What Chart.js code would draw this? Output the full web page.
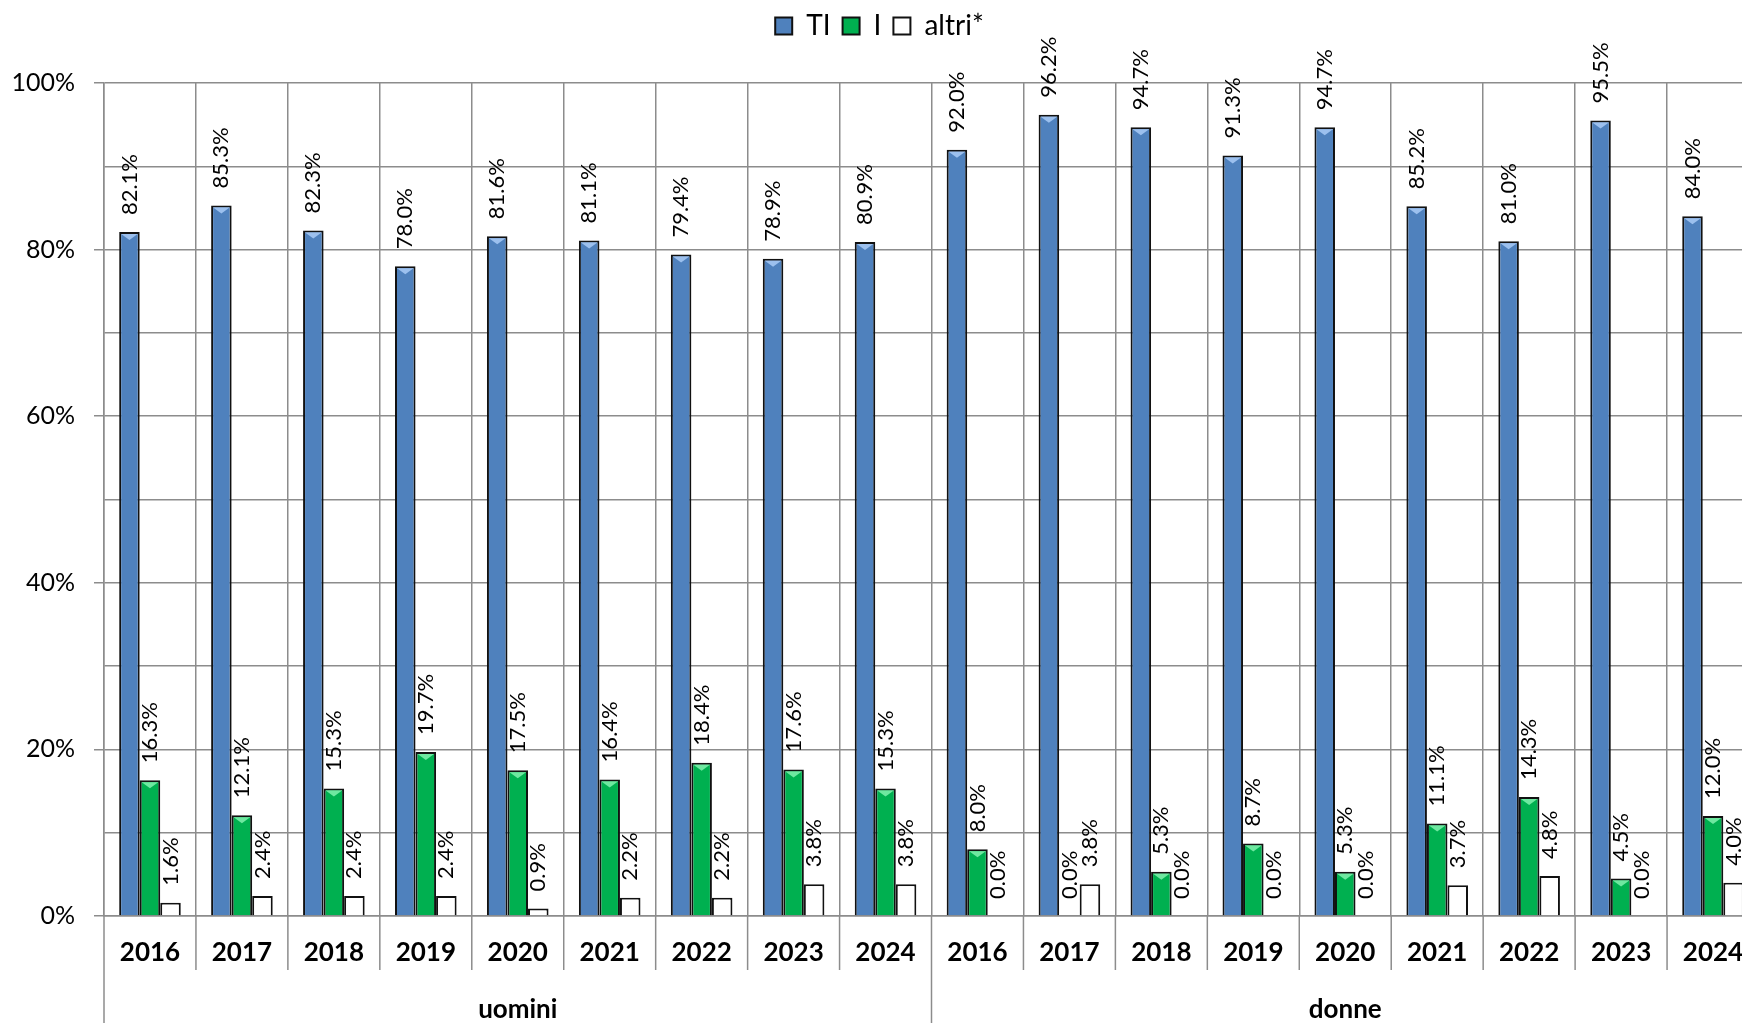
<!DOCTYPE html>
<html lang="it">
<head>
<meta charset="utf-8">
<title>TI - I - altri</title>
<script src="https://cdn.jsdelivr.net/npm/chart.js@4.4.1/dist/chart.umd.min.js"></script>
<style>
    html, body { margin: 0; padding: 0; background: #fff; overflow: hidden; }
    #grafico { display: block; }
</style>
</head>
<body>
<canvas id="grafico" width="1786" height="1023"></canvas>
<script>
// Dati (valori in %)
const anni = ['2016', '2017', '2018', '2019', '2020', '2021', '2022', '2023', '2024',
              '2016', '2017', '2018', '2019', '2020', '2021', '2022', '2023', '2024'];
const gruppi = ['uomini', 'donne'];
const anniPerGruppo = 9;
const valoriTI = [82.1, 85.3, 82.3, 78.0, 81.6, 81.1, 79.4, 78.9, 80.9,
                  92.0, 96.2, 94.7, 91.3, 94.7, 85.2, 81.0, 95.5, 84.0];
const valoriI = [16.3, 12.1, 15.3, 19.7, 17.5, 16.4, 18.4, 17.6, 15.3,
                 8.0, 0.0, 5.3, 8.7, 5.3, 11.1, 14.3, 4.5, 12.0];
const valoriAltri = [1.6, 2.4, 2.4, 2.4, 0.9, 2.2, 2.2, 3.8, 3.8,
                     0.0, 3.8, 0.0, 0.0, 0.0, 3.7, 4.8, 0.0, 4.0];
const tacchePrincipali = [0, 20, 40, 60, 80, 100];

const coloreGriglia = '#8c8c8c';
const font = 'Lato';

// Altezza fissa della legenda, cosi' l'area del grafico parte dove serve
const altezzaLegenda = {
    id: 'altezzaLegenda',
    beforeInit(chart) {
        const fitOriginale = chart.legend.fit;
        chart.legend.fit = function () {
            fitOriginale.call(this);
            this.height = 83;
        };
    }
};

// Piccolo triangolo chiaro in cima alle barre (effetto smusso di Excel)
const smussoBarre = {
    id: 'smussoBarre',
    afterDatasetsDraw(chart) {
        const ctx = chart.ctx;
        const chiari = ['#9cc0ee', '#6ee8a0', '#ffffff'];
        ctx.save();
        chart.data.datasets.forEach((ds, i) => {
            chart.getDatasetMeta(i).data.forEach(barra => {
                const alto = barra.base - barra.y;
                if (alto < 10) return;
                const meta = barra.width / 2 - 2;
                ctx.beginPath();
                ctx.moveTo(barra.x - meta, barra.y + 2);
                ctx.lineTo(barra.x + meta, barra.y + 2);
                ctx.lineTo(barra.x, barra.y + 8);
                ctx.closePath();
                ctx.fillStyle = chiari[i];
                ctx.fill();
            });
        });
        ctx.restore();
    }
};

// Etichette dei valori ruotate sopra ogni barra
const etichetteValori = {
    id: 'etichetteValori',
    afterDatasetsDraw(chart) {
        const ctx = chart.ctx;
        ctx.save();
        ctx.font = '22px ' + font;
        ctx.fillStyle = '#000';
        ctx.textAlign = 'left';
        ctx.textBaseline = 'middle';
        chart.data.datasets.forEach((ds, i) => {
            chart.getDatasetMeta(i).data.forEach((barra, j) => {
                ctx.save();
                ctx.translate(barra.x, barra.y - 17);
                ctx.rotate(-Math.PI / 2);
                ctx.fillText(ds.data[j].toFixed(1) + '%', 0, 0);
                ctx.restore();
            });
        });
        ctx.restore();
    }
};

// Linee di separazione sotto l'asse e nomi dei gruppi (uomini / donne)
const separatori = {
    id: 'separatori',
    afterDraw(chart) {
        const { ctx, chartArea, scales: { x } } = chart;
        const passo = x.getPixelForValue(1) - x.getPixelForValue(0);
        ctx.save();
        ctx.strokeStyle = coloreGriglia;
        ctx.lineWidth = 1.5;
        for (let i = 0; i <= anni.length; i++) {
            const px = x.getPixelForValue(0) + (i - 0.5) * passo;
            const fine = i % anniPerGruppo === 0 ? chart.height : chartArea.bottom + 54;
            ctx.beginPath();
            ctx.moveTo(px, chartArea.bottom);
            ctx.lineTo(px, fine);
            ctx.stroke();
        }
        ctx.font = 'bold 26px ' + font;
        ctx.fillStyle = '#000';
        ctx.textAlign = 'center';
        ctx.textBaseline = 'middle';
        gruppi.forEach((nome, k) => {
            const centro = x.getPixelForValue(0) + (k * anniPerGruppo + (anniPerGruppo - 1) / 2) * passo;
            ctx.fillText(nome, centro, chartArea.bottom + 94);
        });
        ctx.restore();
    }
};

function creaGrafico() {
    const ctx = document.getElementById('grafico').getContext('2d');
    const comuni = { borderColor: '#111', borderWidth: 2, barPercentage: 1, categoryPercentage: 0.67 };
    new Chart(ctx, {
        type: 'bar',
        data: {
            labels: anni,
            datasets: [
                { label: 'TI', data: valoriTI, backgroundColor: '#4f81bd', ...comuni },
                { label: 'I', data: valoriI, backgroundColor: '#00b050', ...comuni },
                { label: 'altri*', data: valoriAltri, backgroundColor: '#ffffff', ...comuni }
            ]
        },
        options: {
            responsive: false,
            animation: false,
            layout: { padding: { right: 27 } },
            plugins: {
                tooltip: { enabled: false },
                legend: {
                    position: 'top',
                    labels: {
                        color: '#000',
                        font: { family: font, size: 28 },
                        boxWidth: 17,
                        boxHeight: 17,
                        padding: 12,
                        generateLabels: chart => chart.data.datasets.map((ds, i) => ({
                            text: ds.label,
                            fillStyle: ds.backgroundColor,
                            strokeStyle: '#111',
                            lineWidth: 2,
                            datasetIndex: i
                        }))
                    }
                }
            },
            scales: {
                x: {
                    grid: { color: coloreGriglia, lineWidth: 1.5, offset: true, drawTicks: false },
                    border: { color: coloreGriglia, width: 1.5 },
                    ticks: {
                        color: '#000',
                        font: { family: font, size: 26, weight: 'bold' },
                        padding: 21,
                        maxRotation: 0,
                        autoSkip: false
                    },
                    afterFit(scale) { scale.height = 107; }
                },
                y: {
                    min: 0,
                    max: 100,
                    ticks: {
                        stepSize: 10,
                        padding: 19,
                        color: '#000',
                        font: { family: font, size: 25 },
                        callback: v => tacchePrincipali.includes(v) ? v + '%' : ''
                    },
                    grid: {
                        color: coloreGriglia,
                        lineWidth: 1.5,
                        tickLength: 10,
                        tickColor: c => tacchePrincipali.includes(c.tick.value) ? coloreGriglia : 'transparent'
                    },
                    border: { color: coloreGriglia, width: 1.5 },
                    afterFit(scale) { scale.width = 104; }
                }
            }
        },
        plugins: [altezzaLegenda, smussoBarre, etichetteValori, separatori]
    });
}

document.addEventListener('DOMContentLoaded', creaGrafico);
</script>
</body>
</html>
